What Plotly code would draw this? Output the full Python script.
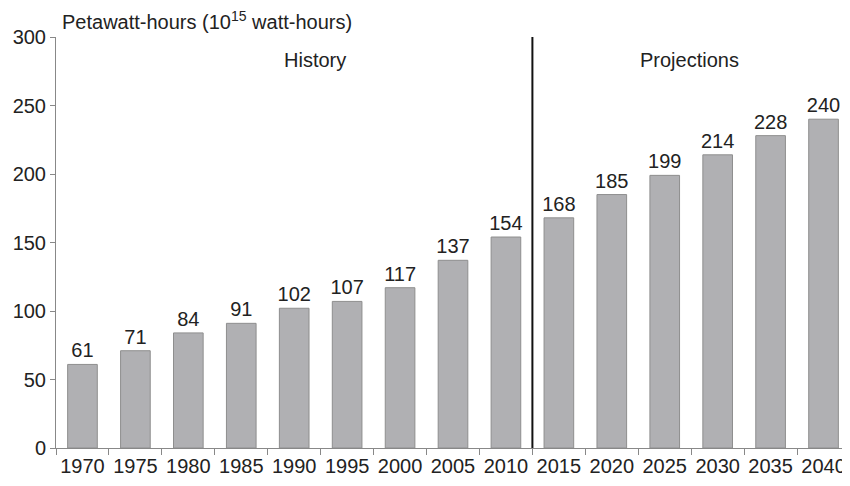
import plotly.graph_objects as go

years = ["1970", "1975", "1980", "1985", "1990", "1995", "2000", "2005",
         "2010", "2015", "2020", "2025", "2030", "2035", "2040"]
values = [61, 71, 84, 91, 102, 107, 117, 137, 154, 168, 185, 199, 214, 228, 240]
y_ticks = [0, 50, 100, 150, 200, 250, 300]

FONT = "Liberation Sans, Arial, sans-serif"
FS = 20

fig = go.Figure()
fig.add_trace(go.Bar(
    x=years, y=values,
    text=[str(v) for v in values],
    textposition="outside",
    constraintext="none",
    textfont=dict(size=FS, color="#222222", family=FONT),
    cliponaxis=False,
    marker=dict(color="#b0b0b3", line=dict(color="#8e8e8e", width=1)),
    width=0.56,
))

fig.add_shape(type="line", xref="x", yref="y", x0=8.5, x1=8.5, y0=0, y1=300,
              line=dict(color="#111111", width=2))

fig.add_annotation(x=4.4, y=283, xref="x", yref="y", text="History", showarrow=False,
                   font=dict(size=FS, color="#222222", family=FONT))
fig.add_annotation(x=11.46, y=283, xref="x", yref="y", text="Projections", showarrow=False,
                   font=dict(size=FS, color="#222222", family=FONT))
fig.add_annotation(x=0, y=1.0, xref="paper", yref="paper", xanchor="left", yanchor="bottom",
                   xshift=4, yshift=2,
                   text="Petawatt-hours (10<sup>15</sup> watt-hours)", showarrow=False,
                   font=dict(size=FS, color="#222222", family=FONT))

fig.update_layout(
    width=842, height=478,
    margin=dict(l=48, r=0, t=29, b=38),
    plot_bgcolor="white", paper_bgcolor="white",
    showlegend=False,
    font=dict(family=FONT, size=FS, color="#222222"),
    xaxis=dict(type="category", showline=True, linecolor="#888888", linewidth=1,
               ticks="outside", tickson="boundaries", ticklen=6, tickcolor="#888888",
               tickangle=0, automargin=False,
               showgrid=False, tickfont=dict(size=FS, color="#222222")),
    yaxis=dict(range=[0, 300], tickvals=y_ticks, showline=True, linecolor="#888888",
               linewidth=1, ticks="outside", ticklen=5, tickcolor="#888888",
               automargin=False,
               showgrid=False, zeroline=False, tickfont=dict(size=FS, color="#222222")),
)

fig.write_html("out.html")
